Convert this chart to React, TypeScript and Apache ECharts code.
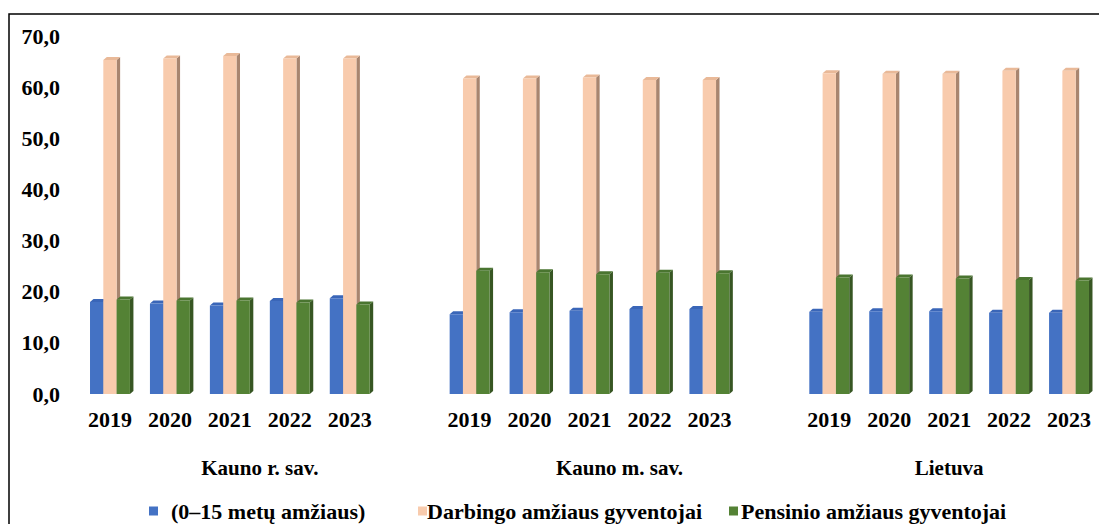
import React, { useEffect, useRef } from "react";
import * as echarts from "echarts";

const years = ["2019", "2020", "2021", "2022", "2023"];
const groups = ["Kauno r. sav.", "Kauno m. sav.", "Lietuva"];
const seriesNames = [
  "(0–15 metų amžiaus)",
  "Darbingo amžiaus gyventojai",
  "Pensinio amžiaus gyventojai",
];
// values per group, per year
const children = [
  [18.0, 17.7, 17.3, 18.2, 18.7],
  [15.6, 16.0, 16.3, 16.6, 16.6],
  [16.1, 16.2, 16.2, 15.9, 15.9],
];
const working = [
  [65.3, 65.6, 66.1, 65.6, 65.6],
  [61.7, 61.7, 61.9, 61.4, 61.4],
  [62.7, 62.6, 62.6, 63.2, 63.2],
];
const retired = [
  [18.5, 18.3, 18.3, 17.9, 17.5],
  [24.1, 23.8, 23.4, 23.7, 23.6],
  [22.8, 22.8, 22.6, 22.3, 22.2],
];
const yTicks = [0, 10, 20, 30, 40, 50, 60, 70];

const colors = [
  { front: "#4472C4", side: "#2F5597", top: "#3A66B8" },
  { front: "#F8CBAD", side: "#A8856F", top: "#E9B998" },
  { front: "#548235", side: "#375623", top: "#4A7530" },
];

const FONT = "Liberation Serif";

export default function App() {
  const ref = useRef<HTMLDivElement>(null);
  useEffect(() => {
    if (!ref.current) return;
    const chart = echarts.init(ref.current, null, { renderer: "svg" });

    const cats: string[] = [];
    groups.forEach((g, gi) => {
      years.forEach((y) => cats.push(y));
      if (gi < groups.length - 1) cats.push("");
    });
    const groupCenters = [2.5, 8.5, 14];

    const all = [children, working, retired];
    const series = all.map((vals, si) => {
      const data: number[][] = [];
      vals.forEach((arr, gi) => {
        arr.forEach((v, yi) => data.push([gi * 6 + yi, v]));
      });
      const c = colors[si];
      return {
        type: "custom",
        name: seriesNames[si],
        itemStyle: { color: c.front },
        data,
        encode: { x: 0, y: 1 },
        renderItem: (params: any, api: any) => {
          const xi = api.value(0);
          const v = api.value(1);
          const base = api.coord([xi, 0]);
          const top = api.coord([xi, v]);
          const band = api.size([1, 0])[0];
          const bw = band * 0.222;
          const left = base[0] - 1.5 * bw + si * bw;
          const dx = 3.5;
          const dy = 3;
          const by = base[1];
          const ty = top[1];
          return {
            type: "group",
            children: [
              {
                type: "polygon",
                shape: {
                  points: [
                    [left + bw, ty],
                    [left + bw + dx, ty - dy],
                    [left + bw + dx, by - dy],
                    [left + bw, by],
                  ],
                },
                style: { fill: c.side },
              },
              {
                type: "polygon",
                shape: {
                  points: [
                    [left, ty],
                    [left + dx, ty - dy],
                    [left + bw + dx, ty - dy],
                    [left + bw, ty],
                  ],
                },
                style: { fill: c.top },
              },
              {
                type: "rect",
                shape: { x: left, y: ty, width: bw, height: by - ty },
                style: { fill: c.front },
              },
            ],
          };
        },
      };
    });

    const legendLefts = [149, 418, 729];
    const legendTextPad = [8, -5, -2];
    const legends = seriesNames.map((n, i) => ({
      left: legendLefts[i],
      top: 500,
      icon: "rect",
      itemWidth: 9,
      itemHeight: 9,
      padding: 0,
      textStyle: {
        fontFamily: FONT,
        fontWeight: "bold",
        fontSize: 22,
        color: "#000",
        padding: [0, 0, 0, legendTextPad[i]],
      },
      data: [n],
    }));

    chart.setOption({
      animation: false,
      backgroundColor: "#ffffff",
      textStyle: { fontFamily: FONT },
      graphic: [
        {
          type: "rect",
          shape: { x: 9, y: 14, width: 1200, height: 600 },
          style: { fill: "none", stroke: "#000", lineWidth: 1.5 },
          z: 10,
        },
      ],
      grid: { left: 80, top: 36, width: 1020, height: 358 },
      legend: legends,
      xAxis: [
        {
          type: "category",
          data: cats,
          axisLine: { show: false },
          axisTick: { show: false },
          axisLabel: {
            interval: 0,
            margin: 14,
            fontFamily: FONT,
            fontWeight: "bold",
            fontSize: 22,
            color: "#000",
          },
        },
        {
          type: "value",
          min: -0.5,
          max: 16.5,
          position: "bottom",
          offset: 55,
          axisLine: { show: false },
          axisTick: { show: false },
          splitLine: { show: false },
          axisLabel: {
            customValues: groupCenters,
            formatter: (v: number) => {
              const i = groupCenters.findIndex((c) => Math.abs(c - v) < 0.01);
              return i >= 0 ? groups[i] : "";
            },
            fontFamily: FONT,
            fontWeight: "bold",
            fontSize: 21,
            color: "#000",
          },
        },
      ],
      yAxis: {
        type: "value",
        min: yTicks[0],
        max: yTicks[yTicks.length - 1],
        interval: 10,
        axisLine: { show: false },
        axisTick: { show: false },
        splitLine: { show: false },
        axisLabel: {
          margin: 20,
          formatter: (v: number) => v.toFixed(1).replace(".", ","),
          fontFamily: FONT,
          fontWeight: "bold",
          fontSize: 22,
          color: "#000",
        },
      },
      series,
    });
    return () => chart.dispose();
  }, []);
  return (
    <div
      ref={ref}
      style={{ position: "fixed", left: 0, top: 0, width: 1099, height: 524 }}
    />
  );
}
